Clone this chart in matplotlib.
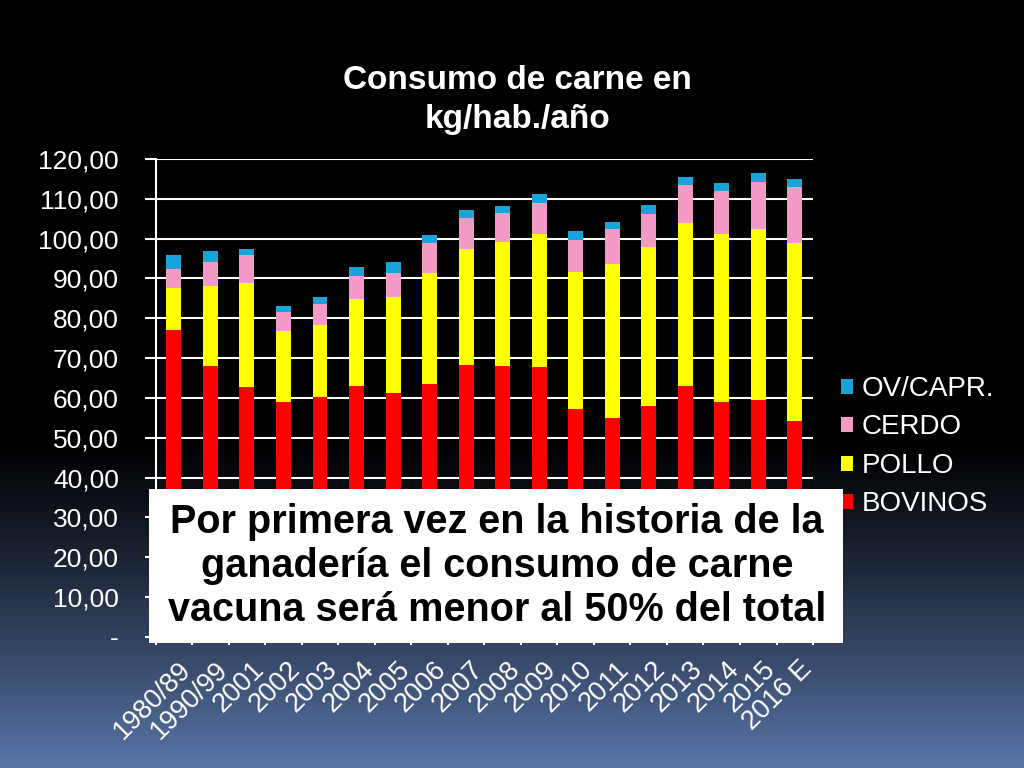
import numpy as np
import matplotlib
matplotlib.use('Agg')
import matplotlib.pyplot as plt
import matplotlib.transforms as mtransforms
from matplotlib.patches import Rectangle
from matplotlib.ticker import FixedLocator

plt.rcParams['font.family'] = ['Liberation Sans', 'DejaVu Sans']

# Datos (kg/hab./año)
anios = ['1980/89', '1990/99', '2001', '2002', '2003', '2004', '2005', '2006', '2007',
         '2008', '2009', '2010', '2011', '2012', '2013', '2014', '2015', '2016 E']
bovinos = [77.1, 68.1, 62.7, 58.9, 60.3, 62.9, 61.3, 63.6, 68.3,
           68.1, 67.8, 57.3, 55.0, 57.9, 63.1, 59.1, 59.5, 54.1]
pollo = [10.6, 19.9, 26.1, 18.0, 17.9, 21.9, 24.0, 27.9, 29.0,
         31.0, 33.3, 34.4, 38.6, 39.9, 40.9, 42.0, 42.9, 44.9]
cerdo = [4.6, 6.2, 7.1, 4.8, 5.3, 5.7, 6.2, 7.3, 7.8,
         7.4, 7.9, 8.0, 8.7, 8.5, 9.4, 10.8, 11.9, 13.9]
ovcapr = [3.7, 2.8, 1.6, 1.5, 1.8, 2.4, 2.7, 2.0, 2.2,
          1.8, 2.1, 2.1, 2.0, 2.1, 2.1, 2.1, 2.1, 2.1]

yticks = [0, 10, 20, 30, 40, 50, 60, 70, 80, 90, 100, 110, 120]
ytick_labels = ['-', '10,00', '20,00', '30,00', '40,00', '50,00', '60,00',
                '70,00', '80,00', '90,00', '100,00', '110,00', '120,00']

fig = plt.figure(figsize=(10.24, 7.68), dpi=100)

# Fondo degradado negro -> azul
bg = fig.add_axes([0, 0, 1, 1], zorder=-10)
h = 768
grad = np.zeros((h, 1, 3))
top_col = np.array([0.0, 0.0, 0.0])
bot_col = np.array([0.35, 0.46, 0.66])
start = 440
for i in range(h):
    t = 0.0 if i < start else (i - start) / (h - start)
    grad[i, 0, :] = top_col + (bot_col - top_col) * t ** 1.15
bg.imshow(grad, aspect='auto', extent=[0, 1, 0, 1])
bg.axis('off')

ax = fig.add_axes([0.152, 0.1706, 0.642, 0.6224])
ax.set_facecolor('none')

x = np.arange(len(anios))
w = 0.41
b1 = np.array(bovinos)
b2 = b1 + np.array(pollo)
b3 = b2 + np.array(cerdo)
ax.bar(x, bovinos, w, color='#ff0000', label='BOVINOS', zorder=3)
ax.bar(x, pollo, w, bottom=b1, color='#ffff00', label='POLLO', zorder=3)
ax.bar(x, cerdo, w, bottom=b2, color='#f49ac6', label='CERDO', zorder=3)
ax.bar(x, ovcapr, w, bottom=b3, color='#18a4d8', label='OV/CAPR.', zorder=3)

ax.set_xlim(-0.5, len(anios) - 0.5)
ax.set_ylim(0, 120)
ax.set_yticks(yticks)
ax.set_yticklabels(ytick_labels)
ax.yaxis.grid(True, color='white', linewidth=1.5, zorder=0)
ax.set_axisbelow(True)
for s in ['top', 'right']:
    ax.spines[s].set_visible(False)
ax.spines['left'].set_color('white')
ax.spines['left'].set_linewidth(1.5)
ax.spines['bottom'].set_color('white')
ax.spines['bottom'].set_linewidth(1.5)
ax.tick_params(axis='y', colors='white', labelsize=19, length=8, width=1.5, pad=18.5)
ax.set_xticks(x)
ax.set_xticklabels(anios, rotation=45, ha='right', va='top', rotation_mode='anchor')
ax.xaxis.set_minor_locator(FixedLocator(np.arange(len(anios) + 1) - 0.5))
ax.tick_params(axis='x', which='major', colors='white', labelsize=19.5, length=0, pad=14)
ax.tick_params(axis='x', which='minor', colors='white', length=6, width=1.5)
# pequeño desplazamiento a la derecha de las etiquetas del eje x
offset = mtransforms.ScaledTranslation(4 / 100, 0, fig.dpi_scale_trans)
for lbl in ax.get_xticklabels():
    lbl.set_transform(lbl.get_transform() + offset)

handles, labels = ax.get_legend_handles_labels()
leg = ax.legend(handles[::-1], labels[::-1], loc='center left', bbox_to_anchor=(1.004, 0.398),
                frameon=False, fontsize=20, labelcolor='white', handlelength=0.45,
                handleheight=0.45, handletextpad=0.3, labelspacing=0.45)

fig.text(0.505, 0.870, 'Consumo de carne en\nkg/hab./año', color='white', fontsize=24,
         fontweight='bold', ha='center', va='center', linespacing=1.35)

# Cuadro de texto blanco
fig.patches.append(Rectangle((149 / 1024, 1 - 643 / 768), 694 / 1024, 154 / 768,
                             transform=fig.transFigure, facecolor='white',
                             edgecolor='none', zorder=5))
fig.text(0.4854, 1 - 566 / 768,
         'Por primera vez en la historia de la\nganadería el consumo de carne\nvacuna será menor al 50% del total',
         fontsize=28.5, fontweight='bold',
         color='black', ha='center', va='center', linespacing=1.2, zorder=6)

fig.savefig('out.png', dpi=100)
